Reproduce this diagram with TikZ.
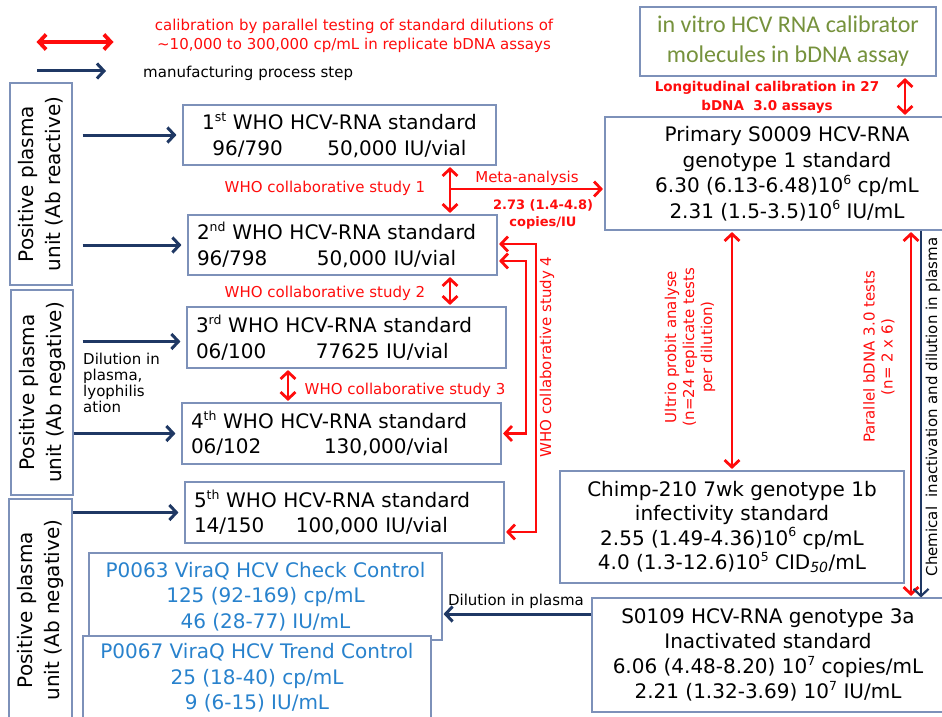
\documentclass[tikz,border=0pt]{standalone}
\usepackage{fontspec}
\setmainfont{DejaVu Sans}
\newfontfamily\calfont{Carlito}
\usetikzlibrary{arrows.meta}
\definecolor{boxline}{RGB}{125,145,185}
\definecolor{navy}{RGB}{31,56,100}
\definecolor{calred}{RGB}{255,12,12}
\definecolor{olive}{RGB}{118,146,60}
\definecolor{ctrlblue}{RGB}{40,130,205}
\newcommand\supx[1]{\raisebox{0.75ex}{\fontsize{12.5}{12.5}\selectfont #1}}
\tikzset{
	>={Straight Barb[length=7pt, width=15pt]},
	StdBox/.style={draw=boxline, fill=white, line width=1.1pt, inner sep=0pt, align=center, font=\fontsize{20}{25.5}\selectfont},
	WhoBox/.style={StdBox, align=left, inner xsep=9pt, minimum height=61pt},
	UnitBox/.style={StdBox, rotate=90, font=\fontsize{20}{27}\selectfont},
	Mfg/.style={navy, line width=3pt, ->},
	Calib/.style={calred, line width=2.8pt, <->, shorten <=1.5pt, shorten >=1.5pt},
	CalibTo/.style={calred, line width=2.8pt, ->, shorten >=1.5pt},
	RedLbl/.style={calred, inner sep=0pt, align=center, font=\fontsize{15}{18}\selectfont},
	SmallLbl/.style={inner sep=0pt, align=left, font=\fontsize{15}{16}\selectfont}
}

\begin{document}
\begin{tikzpicture}[x=1pt, y=-1pt]
		\useasboundingbox (0,0) rectangle (942,717);
		\clip (0,0) rectangle (942,717);

		% Legend
		\coordinate (lr1) at (35,42);
		\coordinate (lr2) at (115,42);
		\coordinate (lb1) at (37,71);
		\coordinate (lb2) at (106,71);
		\draw[Calib, line width=3.8pt] (lr1) -- (lr2);
		\draw[Mfg] (lb1) -- (lb2);
		\node[RedLbl, font=\fontsize{15}{19}\selectfont] (legred) at (354,36)
			{calibration by parallel testing of standard dilutions of\\\textasciitilde10,000 to 300,000 cp/mL in replicate bDNA assays};
		\node[SmallLbl, anchor=west] (legblue) at (143,73) {manufacturing process step};

		% Plasma units
		\node[UnitBox, minimum width=202pt, minimum height=62pt] (pA) at (41,184) {Positive plasma\\unit (Ab reactive)};
		\node[UnitBox, minimum width=205pt, minimum height=62pt] (pB) at (42,392.5) {Positive plasma\\unit (Ab negative)};
		\node[UnitBox, minimum width=222pt, minimum height=63pt] (pC) at (40.5,610) {Positive plasma\\unit (Ab negative)};
		\node[SmallLbl, anchor=west] (dil) at (83,383) {Dilution in\\plasma,\\lyophilis\\ation};

		% WHO standards
		\node[WhoBox, align=center, text width=295pt, minimum height=60pt] (w1) at (339.5,135)
			{1\supx{st} WHO HCV-RNA standard\\\makebox[115pt][l]{96/790}50,000 IU/vial};
		\node[WhoBox, text width=291pt, minimum height=60pt] (w2) at (342.5,245)
			{2\supx{nd} WHO HCV-RNA standard\\\makebox[120pt][l]{96/798}50,000 IU/vial};
		\node[WhoBox, text width=301pt] (w3) at (346.5,337.5)
			{3\supx{rd} WHO HCV-RNA standard\\\makebox[120pt][l]{06/100}77625 IU/vial};
		\node[WhoBox, text width=301pt] (w4) at (341.5,433.5)
			{4\supx{th} WHO HCV-RNA standard\\\makebox[133pt][l]{06/102}130,000/vial};
		\node[WhoBox, text width=301pt] (w5) at (344.5,512.5)
			{5\supx{th} WHO HCV-RNA standard\\\makebox[102pt][l]{14/150}100,000 IU/vial};

		\draw[Mfg, shorten <=10pt, shorten >=6pt] (w1.west -| pA.south) -- (w1.west);
		\draw[Mfg, shorten <=10pt, shorten >=6pt] (w2.west -| pA.south) -- (w2.west);
		\draw[Mfg, shorten <=9pt, shorten >=6pt] ([yshift=-4pt]w3.west -| pB.south) -- ([yshift=-4pt]w3.west);
		\draw[Mfg, shorten >=6pt] (w4.west -| pB.south) -- (w4.west);
		\draw[Mfg, shorten >=6pt] (w5.west -| pC.south) -- (w5.west);

		% Controls
		\node[StdBox, text=ctrlblue, minimum width=353pt, minimum height=87pt] (p63) at (265.5,596.5)
			{P0063 ViraQ HCV Check Control\\125 (92-169) cp/mL\\46 (28-77) IU/mL};
		\node[StdBox, text=ctrlblue, minimum width=348pt, minimum height=84pt] (p67) at (257,678)
			{P0067 ViraQ HCV Trend Control\\25 (18-40) cp/mL\\9 (6-15) IU/mL};

		% Right hand standards
		\node[StdBox, text=olive, font=\calfont\fontsize{24}{30}\selectfont, minimum width=296pt, minimum height=69pt] (calib) at (788,41.5)
			{in vitro HCV RNA calibrator\\molecules in bDNA assay};
		\node[StdBox, minimum width=364pt, minimum height=113pt] (prim) at (787,173.5)
			{Primary S0009 HCV-RNA\\genotype 1 standard\\6.30 (6.13-6.48)10\supx{6} cp/mL\\2.31 (1.5-3.5)10\supx{6} IU/mL};
		\node[StdBox, font=\fontsize{20}{24.3}\selectfont, minimum width=344pt, minimum height=112pt] (chimp) at (732,527)
			{Chimp-210 7wk genotype 1b\\infectivity standard\\2.55 (1.49-4.36)10\supx{6} cp/mL\\4.0 (1.3-12.6)10\supx{5} CID\textsubscript{\itshape 50}/mL};
		\node[StdBox, font=\fontsize{20}{25}\selectfont, minimum width=352pt, minimum height=114pt] (s109) at (768,655)
			{S0109 HCV-RNA genotype 3a\\Inactivated standard\\6.06 (4.48-8.20) 10\supx{7} copies/mL\\2.21 (1.32-3.69) 10\supx{7} IU/mL};

		% Collaborative studies
		\coordinate (m1) at (450,189);
		\coordinate (m3) at (288,390);
		\coordinate (s4o) at (536,400);
		\coordinate (s4i) at (526,350);
		\draw[Calib] (m1 |- w1.south) -- (m1 |- w2.north);
		\draw[CalibTo] (m1) -- (m1 -| prim.west);
		\draw[Calib] (m1 |- w2.south) -- (m1 |- w3.north);
		\draw[Calib] (m3 |- w3.south) -- (m3 |- w4.north);
		\draw[Calib] ([yshift=1pt]w2.east) -| (s4o) |- ([yshift=-19.5pt]w5.east);
		\draw[Calib] ([yshift=-16pt]w2.east) -| (s4i) |- (w4.east);

		\node[RedLbl] (st1) at (325,188) {WHO collaborative study 1};
		\node[RedLbl] (meta) at (527,178) {Meta-analysis};
		\node[RedLbl, font=\bfseries\fontsize{13}{17}\selectfont] (ratio) at (543,214.5) {2.73 (1.4-4.8)\\copies/IU};
		\node[RedLbl] (st2) at (325,293.5) {WHO collaborative study 2};
		\node[RedLbl] (st3) at (405,390) {WHO collaborative study 3};
		\node[RedLbl, rotate=90] (st4) at (547,357) {WHO collaborative study 4};

		% Calibration of the primary standard
		\coordinate (lc) at (905,97);
		\coordinate (pb) at (911,400);
		\coordinate (ch) at (921,400);
		\draw[Calib] (lc |- calib.south) -- (lc |- prim.north);
		\node[RedLbl, font=\bfseries\fontsize{13.5}{19}\selectfont] (longit) at (767,97.5)
			{Longitudinal calibration in 27\\bDNA\ \ 3.0 assays};
		\draw[Calib] (chimp.north |- prim.south) -- (chimp.north);
		\node[RedLbl, rotate=90] (ultrio) at (690,347) {Ultrio probit analyse\\(n=24 replicate tests\\per dilution)};
		\draw[Calib] (pb |- prim.south) -- (pb |- s109.north);
		\node[RedLbl, rotate=90] (para) at (879,357) {Parallel bDNA 3.0 tests\\(n= 2 x 6)};
		\draw[Mfg, line width=2.2pt] (ch |- prim.south) -- (ch |- s109.north);
		\node[SmallLbl, rotate=90] (chem) at (933,407) {Chemical\ \ inactivation and dilution in plasma};

		% Dilution to controls
		\draw[Mfg, shorten >=1pt] ([yshift=41pt]s109.west) -- ([yshift=41pt]s109.west -| p63.east);
		\node[SmallLbl] (dilpl) at (516,601) {Dilution in plasma};
	\end{tikzpicture}
\end{document}
